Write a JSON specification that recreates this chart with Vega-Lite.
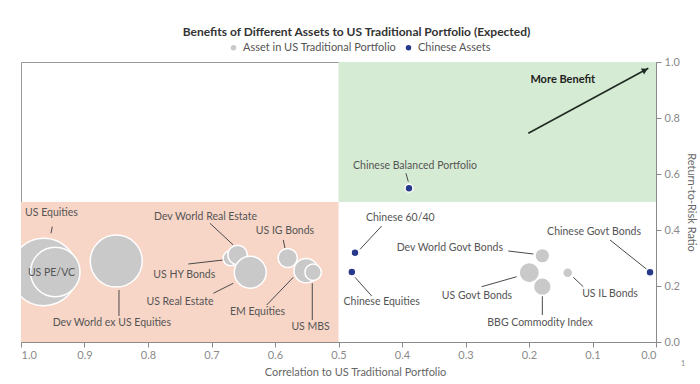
{
  "$schema": "https://vega.github.io/schema/vega-lite/v6.json",
  "width": 635,
  "height": 280,
  "autosize": {"type": "none"},
  "padding": {"left": 21, "top": 62, "right": 44, "bottom": 42},
  "background": "white",
  "config": {
    "font": "Lato",
    "view": {"stroke": "#9a9a9a", "strokeWidth": 1}
  },
  "title": {
    "text": "Benefits of Different Assets to US Traditional Portfolio (Expected)",
    "anchor": "middle",
    "dx": 18,
    "offset": 3,
    "fontSize": 12,
    "fontWeight": "bold",
    "color": "#333333"
  },
  "datasets": {
    "points": [
      {"asset": "US Equities", "group": "Asset in US Traditional Portfolio", "corr": 0.964, "ratio": 0.25, "bubble": 144},
      {"asset": "US PE/VC", "group": "Asset in US Traditional Portfolio", "corr": 0.946, "ratio": 0.25, "bubble": 78},
      {"asset": "Dev World ex US Equities", "group": "Asset in US Traditional Portfolio", "corr": 0.85, "ratio": 0.289, "bubble": 86},
      {"asset": "US HY Bonds", "group": "Asset in US Traditional Portfolio", "corr": 0.67, "ratio": 0.299, "bubble": 7.2},
      {"asset": "Dev World Real Estate", "group": "Asset in US Traditional Portfolio", "corr": 0.659, "ratio": 0.311, "bubble": 12.1},
      {"asset": "US Real Estate", "group": "Asset in US Traditional Portfolio", "corr": 0.639, "ratio": 0.249, "bubble": 32.4},
      {"asset": "US IG Bonds", "group": "Asset in US Traditional Portfolio", "corr": 0.58, "ratio": 0.3, "bubble": 11.7},
      {"asset": "EM Equities", "group": "Asset in US Traditional Portfolio", "corr": 0.551, "ratio": 0.255, "bubble": 19},
      {"asset": "US MBS", "group": "Asset in US Traditional Portfolio", "corr": 0.54, "ratio": 0.249, "bubble": 8.6},
      {"asset": "Dev World Govt Bonds", "group": "Asset in US Traditional Portfolio", "corr": 0.179, "ratio": 0.308, "bubble": 6.9},
      {"asset": "US Govt Bonds", "group": "Asset in US Traditional Portfolio", "corr": 0.1995, "ratio": 0.2475, "bubble": 13.2},
      {"asset": "BBG Commodity Index", "group": "Asset in US Traditional Portfolio", "corr": 0.179, "ratio": 0.1975, "bubble": 10},
      {"asset": "US IL Bonds", "group": "Asset in US Traditional Portfolio", "corr": 0.139, "ratio": 0.2475, "bubble": 3.2},
      {"asset": "Chinese Balanced Portfolio", "group": "Chinese Assets", "corr": 0.389, "ratio": 0.549, "bubble": 2},
      {"asset": "Chinese 60/40", "group": "Chinese Assets", "corr": 0.474, "ratio": 0.319, "bubble": 2},
      {"asset": "Chinese Equities", "group": "Chinese Assets", "corr": 0.479, "ratio": 0.25, "bubble": 2},
      {"asset": "Chinese Govt Bonds", "group": "Chinese Assets", "corr": 0.0094, "ratio": 0.249, "bubble": 2}
    ],
    "labels": [
      {"label": "US Equities", "lx": 0.952, "ly": 0.4596, "x1": 0.9507, "y1": 0.4118, "x2": 0.9528, "y2": 0.3882},
      {"label": "US PE/VC", "lx": 0.952, "ly": 0.2454},
      {"label": "Dev World ex US Equities", "lx": 0.857, "ly": 0.069, "x1": 0.8457, "y1": 0.1857, "x2": 0.8457, "y2": 0.0929},
      {"label": "Dev World Real Estate", "lx": 0.7094, "ly": 0.4475, "x1": 0.7024, "y1": 0.4239, "x2": 0.6657, "y2": 0.3464},
      {"label": "US HY Bonds", "lx": 0.7428, "ly": 0.239, "x1": 0.7365, "y1": 0.2786, "x2": 0.6814, "y2": 0.2929},
      {"label": "US Real Estate", "lx": 0.7496, "ly": 0.144, "x1": 0.6972, "y1": 0.1739, "x2": 0.6657, "y2": 0.2096},
      {"label": "US IG Bonds", "lx": 0.5843, "ly": 0.3975, "x1": 0.5869, "y1": 0.3643, "x2": 0.5843, "y2": 0.3346},
      {"label": "EM Equities", "lx": 0.6276, "ly": 0.108, "x1": 0.6131, "y1": 0.1321, "x2": 0.5712, "y2": 0.231},
      {"label": "US MBS", "lx": 0.544, "ly": 0.0546, "x1": 0.5413, "y1": 0.2096, "x2": 0.5413, "y2": 0.0786},
      {"label": "Chinese 60/40", "lx": 0.4027, "ly": 0.4418, "x1": 0.432, "y1": 0.4143, "x2": 0.4661, "y2": 0.331},
      {"label": "Chinese Equities", "lx": 0.432, "ly": 0.144, "x1": 0.474, "y1": 0.231, "x2": 0.4477, "y2": 0.1643},
      {"label": "Dev World Govt Bonds", "lx": 0.3247, "ly": 0.3368, "x1": 0.2326, "y1": 0.325, "x2": 0.1932, "y2": 0.3143},
      {"label": "US Govt Bonds", "lx": 0.2819, "ly": 0.1643, "x1": 0.2745, "y1": 0.1975, "x2": 0.2194, "y2": 0.2332},
      {"label": "BBG Commodity Index", "lx": 0.1827, "ly": 0.0668, "x1": 0.179, "y1": 0.1739, "x2": 0.179, "y2": 0.0964},
      {"label": "US IL Bonds", "lx": 0.0724, "ly": 0.17, "x1": 0.1302, "y1": 0.231, "x2": 0.1145, "y2": 0.1975},
      {"label": "Chinese Govt Bonds", "lx": 0.0976, "ly": 0.394, "x1": 0.0724, "y1": 0.3643, "x2": 0.0146, "y2": 0.2596},
      {"label": "Chinese Balanced Portfolio", "lx": 0.3795, "ly": 0.6296, "x1": 0.3937, "y1": 0.6025, "x2": 0.3901, "y2": 0.5725}
    ]
  },
  "layer": [
    {
      "data": {"values": [{"x": 1.0, "x2": 0.5, "y": 0.0, "y2": 0.5}]},
      "mark": {"type": "rect", "fill": "#f8d6c7"},
      "encoding": {
        "x": {"field": "x", "type": "quantitative", "scale": {"domain": [0, 1], "reverse": true, "nice": false},
          "axis": {"orient": "bottom", "values": [0, 0.1, 0.2, 0.3, 0.4, 0.5, 0.6, 0.7, 0.8, 0.9, 1.0], "format": ".1f", "grid": false,
            "domainColor": "#8a8a8a", "tickColor": "#8a8a8a", "tickSize": 5, "labelPadding": 2,
            "labelColor": "#8a8a8a", "labelFontSize": 11, "labelFont": "Lato",
            "title": "Correlation to US Traditional Portfolio", "titleFontWeight": "normal", "titleFontSize": 11,
            "titleColor": "#666666", "titleX": 334, "titleY": 30, "titleBaseline": "middle"}},
        "x2": {"field": "x2"},
        "y": {"field": "y", "type": "quantitative", "scale": {"domain": [0, 1], "nice": false},
          "axis": {"orient": "right", "values": [0, 0.2, 0.4, 0.6, 0.8, 1.0], "format": ".1f", "grid": false,
            "domainColor": "#8a8a8a", "tickColor": "#8a8a8a", "tickSize": 5, "labelPadding": 3,
            "labelColor": "#8a8a8a", "labelFontSize": 11,
            "title": "Return-to-Risk Ratio", "titleAngle": 90, "titleFontWeight": "normal", "titleFontSize": 11,
            "titleColor": "#666666", "titlePadding": 6}},
        "y2": {"field": "y2"}
      }
    },
    {
      "data": {"values": [{"x": 0.5, "x2": 0.0, "y": 0.5, "y2": 1.0}]},
      "mark": {"type": "rect", "fill": "#d6ebd3"},
      "encoding": {
        "x": {"field": "x", "type": "quantitative"},
        "x2": {"field": "x2"},
        "y": {"field": "y", "type": "quantitative"},
        "y2": {"field": "y2"}
      }
    },
    {
      "data": {"name": "labels"},
      "transform": [{"filter": "isValid(datum.x1)"}],
      "mark": {"type": "rule", "color": "#4a4a4a", "strokeWidth": 1},
      "encoding": {
        "x": {"field": "x1", "type": "quantitative"},
        "y": {"field": "y1", "type": "quantitative"},
        "x2": {"field": "x2"},
        "y2": {"field": "y2"}
      }
    },
    {
      "data": {"name": "points"},
      "mark": {"type": "point", "filled": true, "opacity": 1, "stroke": "white", "strokeWidth": 1.5, "clip": true},
      "encoding": {
        "x": {"field": "corr", "type": "quantitative"},
        "y": {"field": "ratio", "type": "quantitative"},
        "size": {"field": "bubble", "type": "quantitative", "scale": {"type": "linear", "domain": [0, 150], "range": [0, 4712], "zero": true}, "legend": null},
        "color": {"field": "group", "type": "nominal",
          "scale": {"domain": ["Asset in US Traditional Portfolio", "Chinese Assets"], "range": ["#c9c9c9", "#26398a"]},
          "legend": {"orient": "none", "legendX": 207, "legendY": -20, "direction": "horizontal", "title": null,
            "labelFontSize": 11, "labelColor": "#555555", "symbolSize": 30, "symbolStrokeWidth": 0, "columnPadding": 6, "labelOffset": 4}}
      }
    },
    {
      "data": {"name": "labels"},
      "mark": {"type": "text", "fontSize": 10.5, "color": "#555555", "align": "center", "baseline": "middle"},
      "encoding": {
        "x": {"field": "lx", "type": "quantitative"},
        "y": {"field": "ly", "type": "quantitative"},
        "text": {"field": "label"}
      }
    },
    {
      "data": {"values": [{"x1": 0.2011, "y1": 0.7454, "x2": 0.0121, "y2": 0.9775}]},
      "mark": {"type": "rule", "color": "#1f2a22", "strokeWidth": 1.6},
      "encoding": {
        "x": {"field": "x1", "type": "quantitative"},
        "y": {"field": "y1", "type": "quantitative"},
        "x2": {"field": "x2"},
        "y2": {"field": "y2"}
      }
    },
    {
      "data": {"values": [{"x": 0.0173, "y": 0.971}]},
      "mark": {"type": "point", "shape": "triangle-up", "filled": true, "color": "#1f2a22", "opacity": 1, "size": 45, "angle": 61.6},
      "encoding": {
        "x": {"field": "x", "type": "quantitative"},
        "y": {"field": "y", "type": "quantitative"}
      }
    },
    {
      "data": {"values": [{"note": "More Benefit", "x": 0.1468, "y": 0.9357}]},
      "mark": {"type": "text", "fontSize": 11, "fontWeight": "bold", "color": "#222222", "align": "center", "baseline": "middle"},
      "encoding": {
        "x": {"field": "x", "type": "quantitative"},
        "y": {"field": "y", "type": "quantitative"},
        "text": {"field": "note"}
      }
    },
    {
      "data": {"values": [{"note": "1", "x": -0.0425, "y": -0.0786}]},
      "mark": {"type": "text", "fontSize": 7, "color": "#888888", "align": "center", "baseline": "middle"},
      "encoding": {
        "x": {"field": "x", "type": "quantitative"},
        "y": {"field": "y", "type": "quantitative"},
        "text": {"field": "note"}
      }
    }
  ]
}
